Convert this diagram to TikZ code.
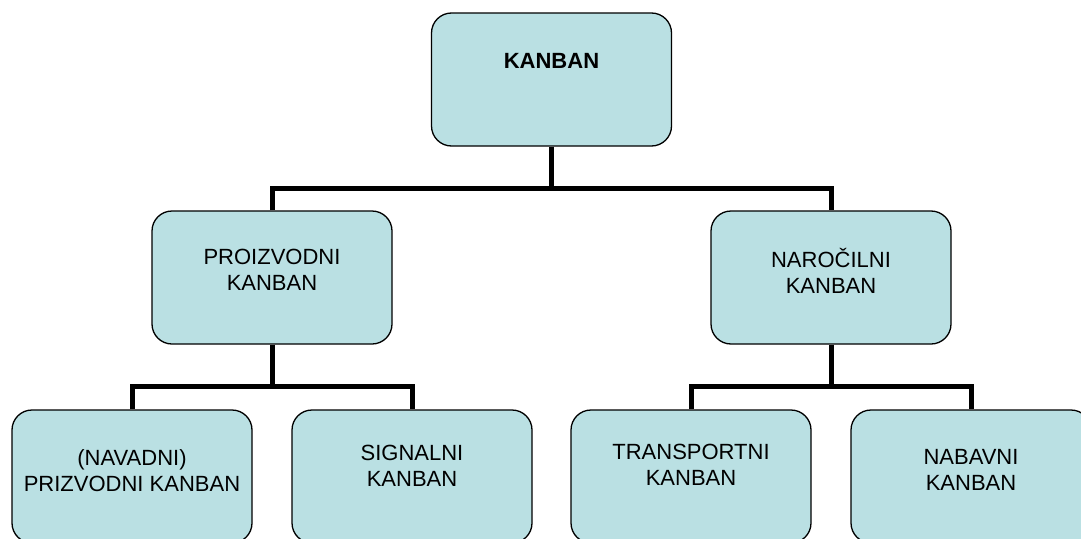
\documentclass[tikz,border=0pt]{standalone}
\usepackage{fontspec}
\setmainfont{Liberation Sans}
\definecolor{boxfill}{RGB}{186,224,227}
\begin{document}
\begin{tikzpicture}[x=1pt,y=-1pt,
  kbox/.style={draw=black,line width=1.3pt,fill=boxfill,rounded corners=20pt,minimum width=240pt,minimum height=133pt,inner sep=0pt},
  ktext/.style={align=center,font=\fontsize{22}{26}\selectfont,inner sep=0pt},
  conn/.style={draw=black,line width=5pt}]
\useasboundingbox (0,0) rectangle (1081,538);
\clip (0,0) rectangle (1081,538);
% boxes
\node[kbox] (top) at (551.5,79.5) {};
\node[kbox] (m1) at (272,277.5) {};
\node[kbox] (m2) at (831,277.5) {};
\node[kbox] (l1) at (132,476.5) {};
\node[kbox] (l2) at (412,476.5) {};
\node[kbox] (l3) at (691,476.5) {};
\node[kbox] (l4) at (971,476.5) {};
% texts
\node[ktext,font=\fontsize{22}{26}\selectfont\bfseries] (topt) at (551.5,61) {KANBAN};
\node[ktext] (m1t) at (272,270) {PROIZVODNI\\KANBAN};
\node[ktext] (m2t) at (831,271) {NAROČILNI\\KANBAN};
\node[ktext] (l1t) at (132,471) {(NAVADNI)\\PRIZVODNI KANBAN};
\node[ktext] (l2t) at (412,466) {SIGNALNI\\KANBAN};
\node[ktext] (l3t) at (691,465) {TRANSPORTNI\\KANBAN};
\node[ktext] (l4t) at (971,470) {NABAVNI\\KANBAN};
% connectors
\coordinate (b0) at (551.5,188);
\coordinate (b1) at (272,386);
\coordinate (b2) at (831,386);
\draw[conn] (top.south) -- (top.south |- b0);
\draw[conn] (m1.north) |- (b0) -| (m2.north);
\draw[conn] (m1.south) -- (b1);
\draw[conn] (l1.north) |- (b1) -| (l2.north);
\draw[conn] (m2.south) -- (b2);
\draw[conn] (l3.north) |- (b2) -| (l4.north);
\end{tikzpicture}
\end{document}
